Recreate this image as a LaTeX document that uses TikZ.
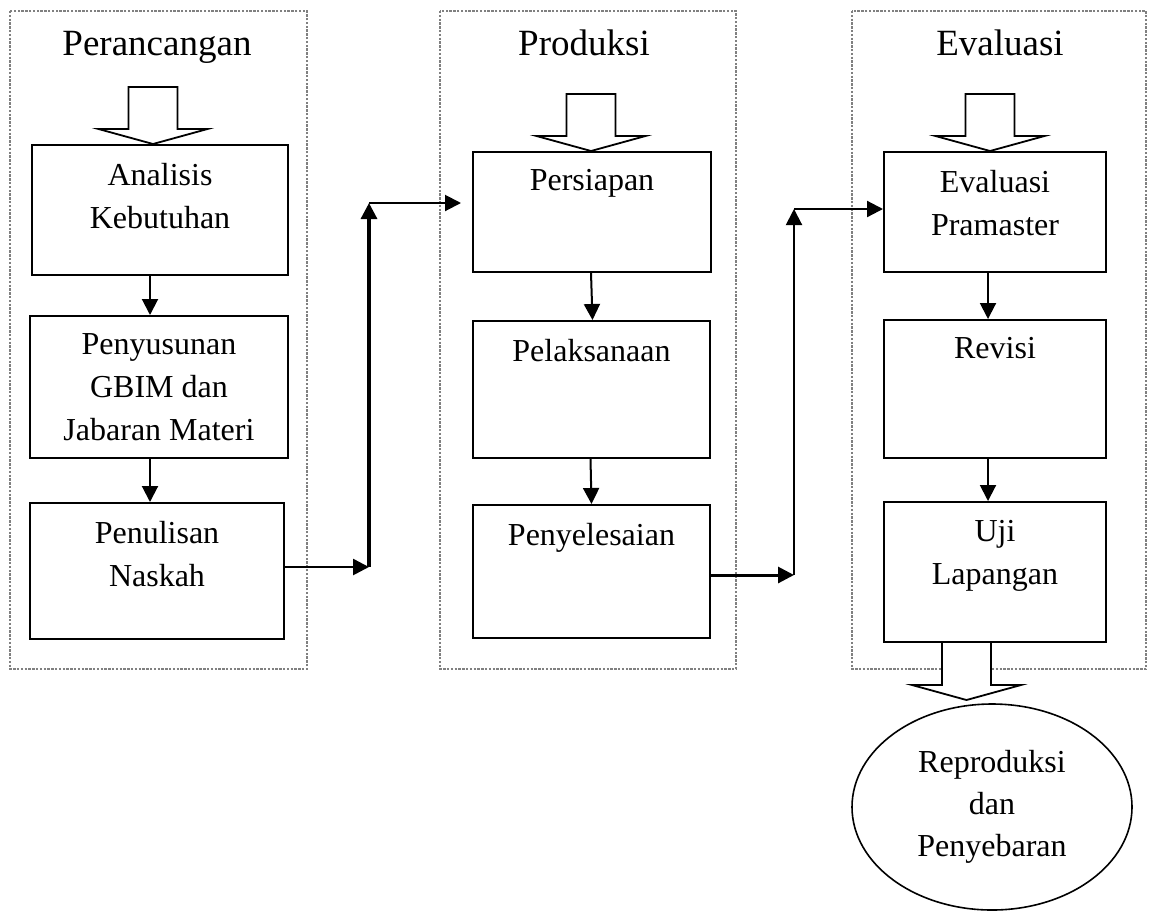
\documentclass[tikz,border=0pt]{standalone}
\usepackage{fontspec}
\setmainfont{Liberation Serif}
\usetikzlibrary{arrows.meta, positioning, shapes.geometric}

\begin{document}
\begin{tikzpicture}[
    x=0.5pt, y=-0.5pt,
    panel/.style={draw=gray, line width=0.6pt, dash pattern=on 1.2pt off 0.7pt},
    title/.style={font=\fontsize{18.5}{22}\selectfont, anchor=base, inner sep=0pt},
    box/.style={draw, line width=1pt, rectangle, inner sep=0pt},
    lbl/.style={font=\fontsize{16}{21.5}\selectfont, align=center, inner sep=0pt, anchor=north},
    arr/.style={-{Triangle[length=8pt, width=8pt]}, line width=1pt},
    hollow/.style={draw, fill=white, line width=0.9pt, line join=miter}
]
    \useasboundingbox (0,0) rectangle (1149,911);

    % Dotted panels
    \draw[panel] (10,11) rectangle (307,669);
    \draw[panel] (440,11) rectangle (736,669);
    \draw[panel] (852,11) rectangle (1146,669);

    \node[title] (tRan) at (157,55) {Perancangan};
    \node[title] (tPro) at (584,55) {Produksi};
    \node[title] (tEva) at (1000,55) {Evaluasi};

    % Perancangan boxes
    \node[box, minimum width=128pt, minimum height=65pt] (ana) at (160,210) {};
    \node[box, minimum width=129pt, minimum height=71pt] (gbim) at (159,387) {};
    \node[box, minimum width=127pt, minimum height=68pt] (nas) at (157,571) {};
    \node[lbl] (anaT) at ([yshift=-9.2pt]ana.north) {Analisis\\Kebutuhan};
    \node[lbl] (gbimT) at ([yshift=-9.2pt]gbim.north) {Penyusunan\\GBIM dan\\Jabaran Materi};
    \node[lbl] (nasT) at ([yshift=-9.2pt]nas.north) {Penulisan\\Naskah};

    % Produksi boxes
    \node[box, minimum width=119pt, minimum height=60pt] (per) at (592,212) {};
    \node[box, minimum width=118.5pt, minimum height=68.5pt] (pel) at (591.5,389.5) {};
    \node[box, minimum width=118.5pt, minimum height=66.5pt] (pny) at (591.5,571.5) {};
    \node[lbl] (perT) at ([yshift=-9.2pt]per.north) {Persiapan};
    \node[lbl] (pelT) at ([yshift=-9.2pt]pel.north) {Pelaksanaan};
    \node[lbl] (pnyT) at ([yshift=-9.2pt]pny.north) {Penyelesaian};

    % Evaluasi boxes
    \node[box, minimum width=111pt, minimum height=60pt] (eva) at (995,212) {};
    \node[box, minimum width=111pt, minimum height=69pt] (rev) at (995,389) {};
    \node[box, minimum width=111pt, minimum height=70pt] (uji) at (995,572) {};
    \node[lbl] (evaT) at ([yshift=-9.2pt]eva.north) {Evaluasi\\Pramaster};
    \node[lbl] (revT) at ([yshift=-9.2pt]rev.north) {Revisi};
    \node[lbl] (ujiT) at ([yshift=-9.2pt]uji.north) {Uji\\Lapangan};

    % Arrows inside panels
    \draw[arr] ([xshift=-5pt]ana.south) -- ([xshift=-4.5pt]gbim.north);
    \draw[arr] ([xshift=-4.5pt]gbim.south) -- ([xshift=-3.5pt]nas.north);
    \draw[arr] ([xshift=-0.5pt]per.south) -- ([xshift=0.5pt]pel.north);
    \draw[arr] ([xshift=-0.5pt]pel.south) -- ([xshift=0pt]pny.north);
    \draw[arr] ([xshift=-3.5pt]eva.south) -- ([xshift=-3.5pt]rev.north);
    \draw[arr] ([xshift=-3.5pt]rev.south) -- ([xshift=-3.5pt]uji.north);

    % Hollow arrows into the first boxes
    \draw[hollow] ([xshift=-3.5pt]ana.north) -- ++(-54.5,-15) -- ++(30,0) -- ++(0,-42)
        -- ++(49,0) -- ++(0,42) -- ++(30,0) -- cycle;
    \draw[hollow] ([xshift=-0.5pt]per.north) -- ++(-54.5,-15) -- ++(30,0) -- ++(0,-42)
        -- ++(49,0) -- ++(0,42) -- ++(30,0) -- cycle;
    \draw[hollow] ([xshift=-2.5pt]eva.north) -- ++(-54.5,-15) -- ++(30,0) -- ++(0,-42)
        -- ++(49,0) -- ++(0,42) -- ++(30,0) -- cycle;

    % Connector Perancangan -> Produksi
    \coordinate (k1) at (369,567);
    \coordinate (k2) at (369,203);
    \draw[arr, line width=1.3pt] ([yshift=2pt]nas.east) -- (k1);
    \draw[arr, line width=1.6pt] (k1) -- (k2);
    \draw[arr] (k2) -- ([shift={(-5.5pt,4.5pt)}]per.west);

    % Connector Produksi -> Evaluasi
    \coordinate (k3) at (794,575);
    \coordinate (k4) at (794,209);
    \draw[arr, line width=1.5pt] ([yshift=-1.75pt]pny.east) -- (k3);
    \draw[arr] (k3) -- (k4);
    \draw[arr, line width=1.1pt] (k4) -- ([yshift=1.5pt]eva.west);

    % Output
    \node[draw, ellipse, line width=0.8pt, minimum width=140pt, minimum height=103pt,
        inner sep=0pt, align=center, font=\fontsize{16}{21}\selectfont] (rep) at (992,807)
        {Reproduksi\\dan\\Penyebaran};
    \draw[hollow] ([xshift=-26.5pt]uji.south) -- ++(0,42) -- ++(-30,0) -- ++(54.5,15)
        -- ++(54.5,-15) -- ++(-30,0) -- ++(0,-42);

\end{tikzpicture}
\end{document}
